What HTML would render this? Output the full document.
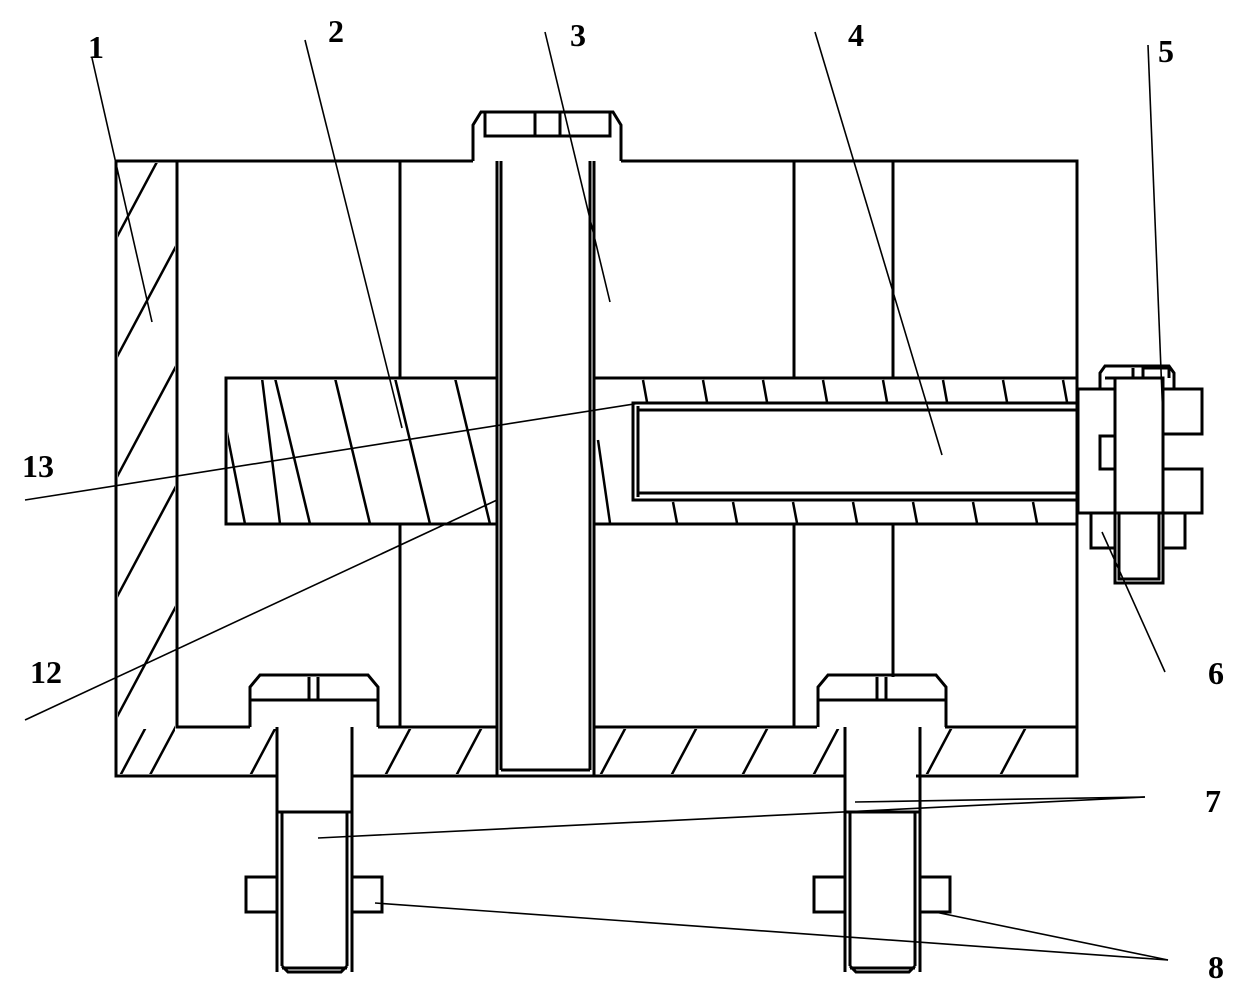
<!DOCTYPE html>
<html><head><style>html,body{margin:0;padding:0;background:#fff}svg{display:block}
text{font-family:"Liberation Serif",serif;font-weight:bold;font-size:32px;fill:#000}</style></head>
<body>
<svg width="1240" height="985" viewBox="0 0 1240 985" xmlns="http://www.w3.org/2000/svg">
<defs>
<clipPath id="cl"><rect x="118" y="163" width="57" height="611"/></clipPath>
<clipPath id="cb"><rect x="228" y="380" width="267" height="143"/></clipPath>
<clipPath id="cp"><path d="M118 729H277V774H118Z M352 729H497V774H352Z M594 729H845V774H594Z M920 729H1075V774H920Z"/></clipPath>
</defs>
<g fill="none" stroke="#000" stroke-width="3">
<path d="M116 161H473 M621 161H1077V776H916 M845 776H352 M277 776H116V161"/>
<path d="M177 161V727H250 M378 727H497 M594 727H817 M945 727H1077"/>
<g clip-path="url(#cl)" stroke-width="2.5">
<line x1="110" y1="250" x2="190" y2="100"/><line x1="110" y1="370" x2="190" y2="220"/>
<line x1="110" y1="490" x2="190" y2="340"/><line x1="110" y1="610" x2="190" y2="460"/>
<line x1="110" y1="730" x2="190" y2="580"/><line x1="110" y1="850" x2="190" y2="700"/>
</g>
<path d="M400 161V378 M400 524V727 M794 161V378 M794 524V727 M893 161V378 M893 524V677"/>
<rect x="226" y="378" width="271" height="146"/>
<path d="M594 378H1077 M594 524H1077"/>
<g clip-path="url(#cb)" stroke-width="2.5">
<line x1="262" y1="378" x2="280" y2="524"/><line x1="275" y1="378" x2="310" y2="524"/>
<line x1="335" y1="378" x2="370" y2="524"/><line x1="395" y1="378" x2="430" y2="524"/>
<line x1="455" y1="378" x2="490" y2="524"/><line x1="226" y1="428" x2="245" y2="524"/>
</g>
<g stroke-width="2.5">
<path d="M643 380l4 22 M703 380l4 22 M763 380l4 22 M823 380l4 22 M883 380l4 22 M943 380l4 22 M1003 380l4 22 M1063 380l4 22"/>
<path d="M673 502l4 21 M733 502l4 21 M793 502l4 21 M853 502l4 21 M913 502l4 21 M973 502l4 21 M1033 502l4 21"/>
<path d="M598 440l12 83"/>
</g>
<path d="M1077 403H633V500H1077 M638 410H1077 M638 493H1077 M638 406V497"/>
<path d="M473 161V125l8-13H613l8 13V161 M485 112V136H535V112 M560 112V136H610V112 M535 136H560"/>
<path d="M497 161V776 M501 161V770 M594 161V776 M590 161V770 M501 770H590"/>
<g clip-path="url(#cp)" stroke-width="2.5">
<line x1="120" y1="776" x2="146" y2="727"/><line x1="250" y1="776" x2="276" y2="727"/>
<line x1="385" y1="776" x2="411" y2="727"/><line x1="456" y1="776" x2="482" y2="727"/>
<line x1="600" y1="776" x2="626" y2="727"/><line x1="671" y1="776" x2="697" y2="727"/>
<line x1="742" y1="776" x2="768" y2="727"/><line x1="813" y1="776" x2="839" y2="727"/>
<line x1="926" y1="776" x2="952" y2="727"/><line x1="1000" y1="776" x2="1026" y2="727"/>
</g>
<g id="bolt">
<path d="M250 727V687l10-12H368l10 12V727 M250 700H378 M309 677V700 M318 677V700"/>
<path d="M277 727V972 M352 727V972 M277 812H352 M282 812V966 M347 812V966 M282 966l6 6H341l6-6 M282 968H347"/>
<rect x="246" y="877" width="31" height="35"/><rect x="352" y="877" width="30" height="35"/>
</g>
<use href="#bolt" transform="translate(568,0)"/>
<path d="M1100 389V373l5-7H1169l5 7V389 M1105 378H1133V368 M1143 378V368H1169V378"/>
<rect x="1078" y="389" width="37" height="124"/>
<rect x="1115" y="378" width="48" height="135"/>
<rect x="1163" y="389" width="39" height="45"/><rect x="1163" y="469" width="39" height="44"/>
<rect x="1100" y="436" width="15" height="33"/>
<path d="M1091 513V548H1115 M1163 548H1185V513"/>
<path d="M1115 513V583H1163V513 M1119 513V579H1159V513"/>
</g>
<g stroke="#000" stroke-width="1.6" fill="none">
<line x1="92" y1="58" x2="152" y2="322"/>
<line x1="305" y1="40" x2="402" y2="428"/>
<line x1="545" y1="32" x2="610" y2="302"/>
<line x1="815" y1="32" x2="942" y2="455"/>
<line x1="1148" y1="45" x2="1163" y2="420"/>
<line x1="1165" y1="672" x2="1102" y2="532"/>
<line x1="1145" y1="797" x2="855" y2="802"/>
<line x1="1145" y1="797" x2="318" y2="838"/>
<line x1="1168" y1="960" x2="375" y2="903"/>
<line x1="1168" y1="960" x2="935" y2="912"/>
<line x1="25" y1="500" x2="640" y2="403"/>
<line x1="25" y1="720" x2="497" y2="500"/>
</g>
<text x="88" y="58">1</text>
<text x="328" y="42">2</text>
<text x="570" y="46">3</text>
<text x="848" y="46">4</text>
<text x="1158" y="62">5</text>
<text x="1208" y="684">6</text>
<text x="1205" y="812">7</text>
<text x="1208" y="978">8</text>
<text x="22" y="477">13</text>
<text x="30" y="683">12</text>
</svg>
</body></html>
